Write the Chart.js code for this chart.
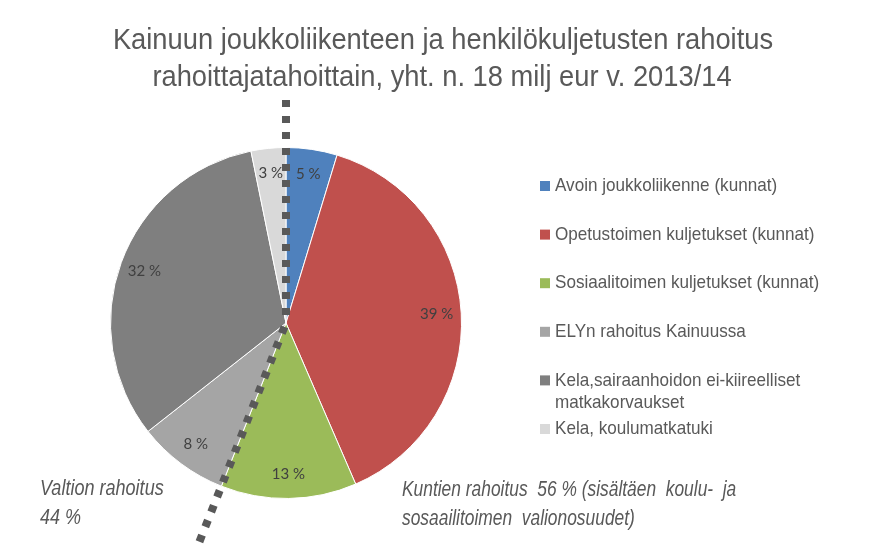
<!DOCTYPE html>
<html>
<head>
<meta charset="utf-8">
<script src="https://cdn.jsdelivr.net/npm/chart.js@4.4.1/dist/chart.umd.min.js"></script>
<style>
  body { margin: 0; background: #fff; }
  canvas { display: block; }
</style>
</head>
<body>
<canvas id="rahoitusChart" width="882" height="551"></canvas>
<script>
var categories = [
  "Avoin joukkoliikenne (kunnat)",
  "Opetustoimen kuljetukset (kunnat)",
  "Sosiaalitoimen kuljetukset (kunnat)",
  "ELYn rahoitus Kainuussa",
  ["Kela,sairaanhoidon ei-kiireelliset", "matkakorvaukset"],
  "Kela, koulumatkatuki",
];
var shares = [4.7, 38.8, 12.5, 8.4, 32.4, 3.2];
var sliceColors = ["#4F81BD", "#C0504D", "#9BBB59", "#A5A5A5", "#7F7F7F", "#D9D9D9"];
var titleLines = [
  "Kainuun joukkoliikenteen ja henkilökuljetusten rahoitus",
  "rahoittajatahoittain, yht. n. 18 milj eur v. 2013/14",
];
var valtionNote = ["Valtion rahoitus", "44 %"];
var kuntienNote = ["Kuntien rahoitus  56 % (sisältäen  koulu-  ja", "sosaailitoimen  valionosuudet)"];

var textColor = "#595959";
var sans = '"Liberation Sans", Arial, sans-serif';

// narrow text: the original uses a condensed font, so squeeze horizontally
function narrowText(c, t, x, y, sx) {
  c.save();
  c.translate(x, y);
  c.scale(sx, 1);
  c.fillText(t, 0, 0);
  c.restore();
}

// labels, dotted divider, title, legend and notes
var extras = {
  id: "extras",
  afterDatasetsDraw: function (chart) {
    var c = chart.ctx;
    var meta = chart.getDatasetMeta(0);
    var first = meta.data[0];
    var cx = first.x, cy = first.y, r = first.outerRadius;

    c.save();
    c.fillStyle = "#404040";
    c.font = "15px Lato, sans-serif";
    c.textAlign = "center";
    c.textBaseline = "middle";
    meta.data.forEach(function (arc, i) {
      var mid = (arc.startAngle + arc.endAngle) / 2;
      c.fillText(Math.round(shares[i]) + " %", cx + Math.cos(mid) * r * 0.86, cy + Math.sin(mid) * r * 0.86);
    });

    // dotted divider between municipal and state funding
    c.strokeStyle = "#595959";
    c.lineWidth = 8;
    c.setLineDash([7, 9]);
    [[first.startAngle, 1.27], [meta.data[3].startAngle, 1.34]].forEach(function (seg) {
      c.beginPath();
      c.moveTo(cx + Math.cos(seg[0]) * r * seg[1], cy + Math.sin(seg[0]) * r * seg[1]);
      c.lineTo(cx, cy);
      c.stroke();
    });
    c.restore();
  },
  afterDraw: function (chart) {
    var c = chart.ctx;
    c.save();
    c.fillStyle = textColor;
    c.textBaseline = "middle";

    c.font = "30px " + sans;
    c.textAlign = "center";
    narrowText(c, titleLines[0], 443, 41, 0.91);
    narrowText(c, titleLines[1], 442, 78, 0.91);

    c.textAlign = "left";
    c.font = "19px " + sans;
    categories.forEach(function (lab, i) {
      var y = 186 + i * 48.6;
      var lines = Array.isArray(lab) ? lab : [lab];
      c.fillStyle = sliceColors[i];
      c.fillRect(540, y - 5, 10, 10);
      c.fillStyle = textColor;
      lines.forEach(function (t, j) {
        narrowText(c, t, 555, y + j * 22, 0.9);
      });
    });

    c.font = "italic 22px " + sans;
    valtionNote.forEach(function (t, j) { narrowText(c, t, 40, 489 + j * 29, 0.82); });
    kuntienNote.forEach(function (t, j) { narrowText(c, t, 402, 490 + j * 29, 0.79); });
    c.restore();
  },
};

var ctx = document.getElementById("rahoitusChart").getContext("2d");
var rahoitusChart = new Chart(ctx, {
  type: "pie",
  data: {
    labels: categories,
    datasets: [
      {
        data: shares,
        backgroundColor: sliceColors,
        borderColor: "#ffffff",
        borderWidth: 1,
      },
    ],
  },
  options: {
    responsive: false,
    animation: false,
    layout: {
      padding: { left: 110, right: 420, top: 147, bottom: 52 },
    },
    plugins: {
      legend: { display: false },
      tooltip: { enabled: false },
    },
  },
  plugins: [extras],
});
</script>
</body>
</html>
